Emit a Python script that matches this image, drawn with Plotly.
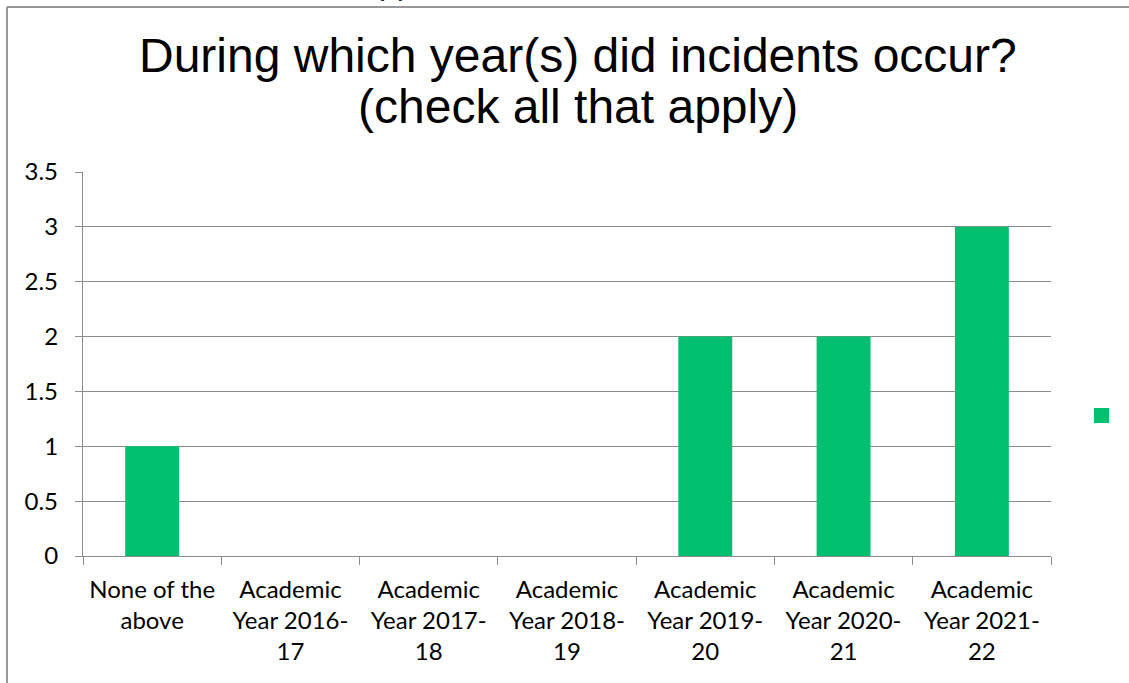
import plotly.graph_objects as go

# chart data
categories = [
    "None of the<br>above",
    "Academic<br>Year 2016-<br>17",
    "Academic<br>Year 2017-<br>18",
    "Academic<br>Year 2018-<br>19",
    "Academic<br>Year 2019-<br>20",
    "Academic<br>Year 2020-<br>21",
    "Academic<br>Year 2021-<br>22",
]
counts = [1, 0, 0, 0, 2, 2, 3]
y_ticks = [0, 0.5, 1, 1.5, 2, 2.5, 3, 3.5]
y_tick_labels = ["0", "0.5", "1", "1.5", "2", "2.5", "3", "3.5"]
title_lines = ["During which year(s) did incidents occur?", "(check all that apply)"]

GREEN = '#00bf6f'
GRID = '#8c8c8c'
TICK_FONT = dict(family='Lato, Liberation Sans, sans-serif', size=24, color='#000000')
TITLE_FONT = dict(family='Liberation Sans, Arial, sans-serif', size=48, color='#000000')

# page geometry (px) used to turn pixel positions into paper coords
W, H = 1129, 683
L, R, T, B = 83, 78, 172, 127
PW, PH = W - L - R, H - T - B


def px(x):
    return (x - L) / PW


def py(y):
    return (H - B - y) / PH


fig = go.Figure()
fig.add_trace(go.Bar(x=categories, y=counts, marker=dict(color=GREEN, line_width=0),
                     showlegend=False, hoverinfo='y'))

fig.update_layout(
    width=W, height=H,
    margin=dict(l=L, r=R, t=T, b=B, pad=0),
    plot_bgcolor='white', paper_bgcolor='white',
    bargap=0.61,
    showlegend=False,
    xaxis=dict(showline=True, linecolor=GRID, linewidth=1.3, ticks='outside',
               tickson='boundaries', ticklen=8, tickcolor=GRID, tickwidth=1.3,
               showgrid=False, tickfont=TICK_FONT, tickangle=0, ticklabelstandoff=12),
    yaxis=dict(range=[0, 3.5], tickvals=y_ticks, ticktext=y_tick_labels,
               showline=True, linecolor=GRID, linewidth=1.3, ticks='outside',
               ticklen=7, tickcolor=GRID, tickwidth=1.3, showgrid=True,
               gridcolor=GRID, gridwidth=1.3, zeroline=False,
               tickfont=TICK_FONT, ticklabelstandoff=12),
)

# title, one annotation per line so the line spacing can be tight
for line, centre_y in zip(title_lines, [55, 106]):
    fig.add_annotation(
        text=line, xref='paper', yref='paper', x=px(578), y=py(centre_y),
        xanchor='center', yanchor='middle', showarrow=False, font=TITLE_FONT,
    )

# cut-off text fragment above the frame
fig.add_annotation(
    text="pp", xref='paper', yref='paper', x=px(378), y=py(-17), xanchor='left', yanchor='middle',
    showarrow=False, borderpad=0,
    font=dict(family='Liberation Sans, Arial, sans-serif', size=32, color='#222222'),
)

# outer frame of the chart object
fig.add_shape(type='line', xref='paper', yref='paper', x0=px(7), x1=px(1140), y0=py(7), y1=py(7),
              line=dict(color='#969696', width=2))
fig.add_shape(type='line', xref='paper', yref='paper', x0=px(7), x1=px(7), y0=py(7), y1=py(700),
              line=dict(color='#969696', width=2))

# legend key (series has no name)
fig.add_shape(type='rect', xref='paper', yref='paper', x0=px(1094), x1=px(1109),
              y0=py(423), y1=py(408), fillcolor=GREEN, line_width=0)

# drop the default 8px page margin so the figure fills the window
fig.write_html("out.html", config={'displayModeBar': False},
               post_script="document.body.style.margin='0';")
